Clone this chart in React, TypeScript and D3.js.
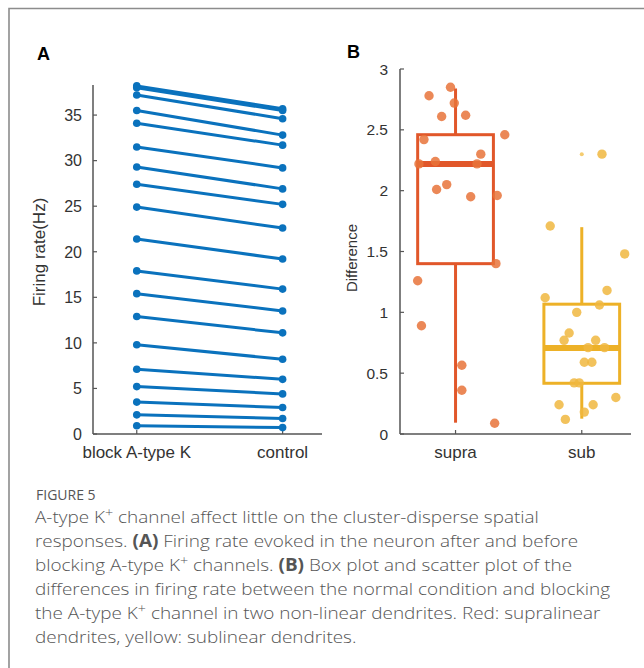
import React from "react";
import * as d3 from "d3";

// Panel A: firing rate, blocked vs control (one line per condition)
const conditions = ["block A-type K", "control"];
const blockRate = [38.2, 38.0, 37.2, 35.5, 34.1, 31.5, 29.3, 27.4, 24.9, 21.4, 17.9, 15.4, 12.9, 9.8, 7.1, 5.2, 3.5, 2.1, 0.9];
const controlRate = [35.7, 35.5, 34.6, 32.8, 31.7, 29.2, 26.9, 25.2, 22.6, 19.2, 15.9, 13.5, 11.1, 8.2, 6.0, 4.4, 2.9, 1.7, 0.7];
const rateTicks = [0, 5, 10, 15, 20, 25, 30, 35];

// Panel B: differences, box stats [lowWhisker, q1, median, q3, highWhisker]
const groups = ["supra", "sub"];
const supraBox = [0.093, 1.4, 2.22, 2.46, 2.84];
const subBox = [0.126, 0.417, 0.707, 1.067, 1.7];
const supraValues = [2.85, 2.78, 2.72, 2.62, 2.61, 2.46, 2.42, 2.3, 2.24, 2.22, 2.22, 2.05, 2.01, 1.96, 1.95, 1.4, 1.26, 0.89, 0.565, 0.36, 0.088];
const supraJitter = [-0.04, -0.21, -0.01, 0.08, -0.11, 0.39, -0.25, 0.2, -0.16, -0.29, 0.17, -0.07, -0.15, 0.33, 0.12, 0.32, -0.3, -0.27, 0.05, 0.05, 0.31];
const subValues = [2.3, 1.71, 1.48, 1.18, 1.12, 1.06, 1.0, 0.83, 0.77, 0.77, 0.71, 0.71, 0.59, 0.59, 0.42, 0.42, 0.3, 0.24, 0.24, 0.18, 0.12];
const subJitter = [0.16, -0.25, 0.34, 0.2, -0.29, 0.14, -0.04, -0.1, -0.14, 0.11, 0.05, 0.18, 0.02, 0.08, -0.06, -0.02, 0.27, -0.18, 0.09, 0.02, -0.13];
const subOutliers = [2.3];
const diffTicks = [0, 0.5, 1, 1.5, 2, 2.5, 3];

const captionLines = [
  [{ t: "A-type K" }, { t: "+", sup: true }, { t: " channel affect little on the cluster-disperse spatial" }],
  [{ t: "responses. " }, { t: "(A)", b: true }, { t: " Firing rate evoked in the neuron after and before" }],
  [{ t: "blocking A-type K" }, { t: "+", sup: true }, { t: " channels. " }, { t: "(B)", b: true }, { t: " Box plot and scatter plot of the" }],
  [{ t: "differences in firing rate between the normal condition and blocking" }],
  [{ t: "the A-type K" }, { t: "+", sup: true }, { t: " channel in two non-linear dendrites. Red: supralinear" }],
  [{ t: "dendrites, yellow: sublinear dendrites." }],
];

const AXIS = "#555";
const LABEL = "#333";
const FONT = "'Liberation Sans', Arial, sans-serif";
const CAPFONT = "'Open Sans', 'Noto Sans', sans-serif";

const App = () => {
  // scales for panel A
  const xA = d3.scaleLinear().domain([0.7, 2.27]).range([93, 322]);
  const yA = d3.scaleLinear().domain([0, 38.3]).range([434, 85]);
  // scales for panel B
  const xB = d3.scaleLinear().domain([0.56, 2.39]).range([400, 631]);
  const yB = d3.scaleLinear().domain([0, 3]).range([434, 69]);

  const boxes = [
    { stats: supraBox, vals: supraValues, jit: supraJitter, box: "#E1572A", dot: "#E8733A" },
    { stats: subBox, vals: subValues, jit: subJitter, box: "#EDB127", dot: "#F0B73F" },
  ];
  const halfW = 0.3;

  return (
    <svg width={644} height={668} style={{ position: "absolute", left: 0, top: 0, background: "#fff" }}>
      {/* frame */}
      <path d="M9,668 V8.5 H644" fill="none" stroke="#8c8c8c" strokeWidth={1.6} />

      {/* panel letters */}
      <text x={37} y={60} fontFamily={FONT} fontWeight="bold" fontSize={18}>A</text>
      <text x={347} y={58} fontFamily={FONT} fontWeight="bold" fontSize={18}>B</text>

      {/* ===== Panel A ===== */}
      <g fontFamily={FONT}>
        <line x1={xA(0.7)} x2={xA(0.7)} y1={yA(0)} y2={yA(38.3)} stroke={AXIS} strokeWidth={1.5} />
        <line x1={xA(0.7)} x2={xA(2.27)} y1={yA(0)} y2={yA(0)} stroke={AXIS} strokeWidth={1.5} />
        {rateTicks.map((t) => (
          <g key={t} transform={`translate(${xA(0.7)},${yA(t)})`}>
            <line x2={4} stroke={AXIS} strokeWidth={1.2} />
            <text x={-11} dy="0.36em" textAnchor="end" fontSize={16} fill={LABEL}>{t}</text>
          </g>
        ))}
        {conditions.map((c, i) => (
          <g key={c} transform={`translate(${xA(i + 1)},${yA(0)})`}>
            <line y2={-4} stroke={AXIS} strokeWidth={1.2} />
            <text y={24} textAnchor="middle" fontSize={17} fill={LABEL}>{c}</text>
          </g>
        ))}
        <text transform={`translate(45,252) rotate(-90)`} textAnchor="middle" fontSize={17} fill={LABEL}>Firing rate(Hz)</text>

        {blockRate.map((v, i) => (
          <g key={i}>
            <line x1={xA(1)} y1={yA(v)} x2={xA(2)} y2={yA(controlRate[i])} stroke="#0a72bd" strokeWidth={3} />
            <circle cx={xA(1)} cy={yA(v)} r={3.8} fill="#0a72bd" />
            <circle cx={xA(2)} cy={yA(controlRate[i])} r={3.8} fill="#0a72bd" />
          </g>
        ))}
      </g>

      {/* ===== Panel B ===== */}
      <g fontFamily={FONT}>
        <line x1={xB(0.56)} x2={xB(0.56)} y1={yB(0)} y2={yB(3)} stroke={AXIS} strokeWidth={1.5} />
        <line x1={xB(0.56)} x2={xB(2.39)} y1={yB(0)} y2={yB(0)} stroke={AXIS} strokeWidth={1.5} />
        {diffTicks.map((t) => (
          <g key={t} transform={`translate(${xB(0.56)},${yB(t)})`}>
            <line x2={4} stroke={AXIS} strokeWidth={1.2} />
            <text x={-12} dy="0.36em" textAnchor="end" fontSize={15.5} fill={LABEL}>{t}</text>
          </g>
        ))}
        {groups.map((g, i) => (
          <g key={g} transform={`translate(${xB(i + 1)},${yB(0)})`}>
            <line y2={-4} stroke={AXIS} strokeWidth={1.2} />
            <text y={24} textAnchor="middle" fontSize={17} fill={LABEL}>{g}</text>
          </g>
        ))}
        <text transform={`translate(357,258) rotate(-90)`} textAnchor="middle" fontSize={15} fill={LABEL}>Difference</text>

        {boxes.map((b, i) => {
          const c = i + 1;
          const [lo, q1, med, q3, hi] = b.stats;
          return (
            <g key={i}>
              <line x1={xB(c)} x2={xB(c)} y1={yB(q3)} y2={yB(hi)} stroke={b.box} strokeWidth={3} />
              <line x1={xB(c)} x2={xB(c)} y1={yB(q1)} y2={yB(lo)} stroke={b.box} strokeWidth={3} />
              <rect x={xB(c - halfW)} y={yB(q3)} width={xB(c + halfW) - xB(c - halfW)} height={yB(q1) - yB(q3)} fill="none" stroke={b.box} strokeWidth={3} />
              <line x1={xB(c - halfW)} x2={xB(c + halfW)} y1={yB(med)} y2={yB(med)} stroke={b.box} strokeWidth={6} />
              {b.vals.map((v, j) => (
                <circle key={j} cx={xB(c + b.jit[j])} cy={yB(v)} r={4.7} fill={b.dot} fillOpacity={0.85} />
              ))}
            </g>
          );
        })}
        {subOutliers.map((v, j) => (
          <circle key={j} cx={xB(2)} cy={yB(v)} r={2} fill="#F5CC70" />
        ))}
      </g>

      {/* caption */}
      <text x={36} y={500} fontFamily={CAPFONT} fontSize={14} fill="#555">FIGURE 5</text>
      {captionLines.map((line, i) => (
        <text key={i} x={35} y={523 + i * 24} fontFamily={CAPFONT} fontSize={17.2} fontWeight={300}
          fill="#555" transform={`translate(35,0) scale(1.1,1) translate(-35,0)`}>
          {line.map((s, k) =>
            s.sup ? (
              <tspan key={k} dy={-6} fontSize={13}>{s.t}</tspan>
            ) : (
              <tspan key={k} dy={k > 0 && line[k - 1].sup ? 6 : 0} fontWeight={s.b ? "bold" : 300}>{s.t}</tspan>
            )
          )}
        </text>
      ))}
    </svg>
  );
};

export default App;
